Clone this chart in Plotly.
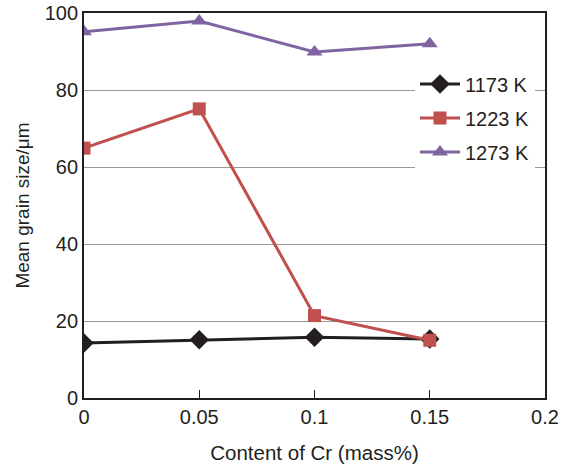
import plotly.graph_objects as go

cr = [0, 0.05, 0.1, 0.15]
s1173 = [14.3, 15.1, 15.8, 15.3]
s1223 = [64.9, 75.1, 21.4, 15.0]
s1273 = [95.1, 97.9, 89.9, 92.0]

x_ticks = [0, 0.05, 0.1, 0.15, 0.2]
x_labels = ["0", "0.05", "0.1", "0.15", "0.2"]
y_ticks = [0, 20, 40, 60, 80, 100]

fig = go.Figure()
fig.add_trace(go.Scatter(x=cr, y=s1173, name="1173 K", mode="lines+markers",
                         legendgroup="a",
                         line=dict(color="#231f20", width=3),
                         marker=dict(symbol="diamond", size=15, color="#231f20")))
fig.add_trace(go.Scatter(x=cr, y=s1223, name="1223 K", mode="lines+markers",
                         legendgroup="b",
                         line=dict(color="#c0504d", width=3),
                         marker=dict(symbol="square", size=13, color="#c0504d")))
fig.add_trace(go.Scatter(x=cr, y=s1273, name="1273 K", mode="lines+markers",
                         legendgroup="c",
                         line=dict(color="#8064a2", width=3),
                         marker=dict(symbol="triangle-up", size=14, color="#8064a2")))

fig.update_layout(
    width=566, height=470,
    margin=dict(l=84, r=21, t=13, b=72),
    paper_bgcolor="white", plot_bgcolor="white",
    font=dict(family="Liberation Sans, Arial, sans-serif", color="#231f20", size=20),
    showlegend=True,
    legend=dict(x=0.718, y=0.866, xanchor="left", yanchor="top",
                bgcolor="white", font=dict(size=20), itemwidth=40,
                tracegroupgap=5),
    xaxis=dict(range=[0, 0.2], tickvals=x_ticks, ticktext=x_labels,
               showgrid=False, zeroline=False, showline=True, linecolor="#231f20",
               linewidth=1.8, mirror=True, ticks="inside", ticklen=8,
               tickcolor="#231f20", tickfont=dict(size=20), automargin=False,
               ticklabeloverflow="allow",
               title=dict(text="Content of Cr (mass%)", font=dict(size=20.5), standoff=19)),
    yaxis=dict(range=[0, 100], tickvals=y_ticks, showgrid=True, gridcolor="#999999",
               gridwidth=1, zeroline=False, showline=True, linecolor="#231f20",
               linewidth=1.8, mirror=True, ticks="", tickfont=dict(size=20),
               automargin=False, ticklabeloverflow="allow",
               title=dict(text="Mean grain size/μm", font=dict(size=19), standoff=10)),
)

fig.write_html("out.html", config={"displayModeBar": False},
               post_script="document.body.style.margin='0';")
